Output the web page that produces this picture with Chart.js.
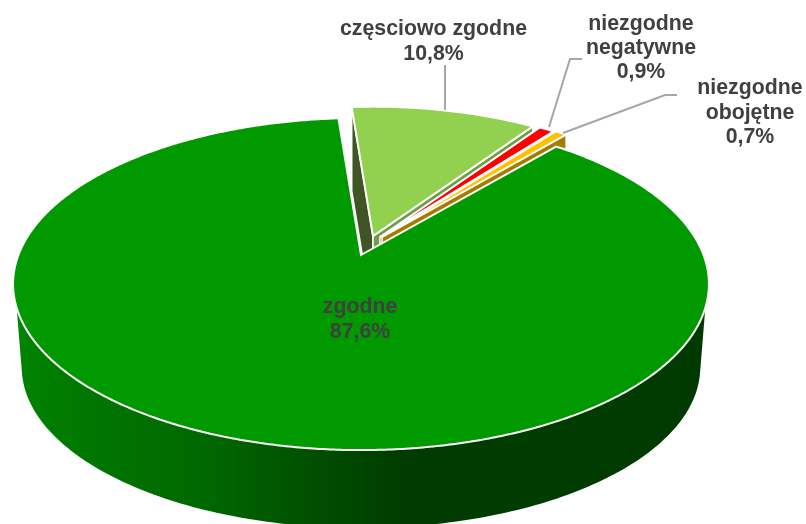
<!DOCTYPE html>
<html>
<head>
<meta charset="utf-8">
<script src="https://cdn.jsdelivr.net/npm/chart.js@4/dist/chart.umd.min.js"></script>
<style>html,body{margin:0;padding:0;background:#fff}canvas{display:block}</style>
</head>
<body>
<canvas id="c" width="806" height="524"></canvas>
<script>
const categories = ['zgodne', 'częsciowo zgodne', 'niezgodne negatywne', 'niezgodne obojętne'];
const values = [87.6, 10.8, 0.9, 0.7];
const sliceColors = ['#009900', '#92d050', '#ff0000', '#ffc000'];
const labelLines = [['zgodne'], ['częsciowo zgodne'], ['niezgodne', 'negatywne'], ['niezgodne', 'obojętne']];

// 3D look: view settings, all relative to the arc elements the library lays out
const VIEW = {
  offX: -42, offY: -7, sx: 1.3076, sy: 0.6145, persp: 0.1747,
  botOffY: 77, botSx: 1.275, botSy: 0.5954,
  depth: 84,
  shift: [[0, 0], [12, -19], [19, -18], [21, -18]],
  scale: [1, 0.944, 0.944, 0.944],
  faces: [null, ['#3f5525', '#6f9e4a'], [null, '#a80000'], [null, '#a67c00']],
  rimTop: [108.1, 251.9], rimBot: [102.9, 257.1]
};
const rimStops = [[15, '#008400'], [100, '#007400'], [200, '#006900'], [330, '#004b00'], [400, '#003c00'], [705, '#003a00']];
const labelPos = [[360, 313, 25], [433.5, 35, 25], [641, 30, 24], [750, 94, 24.5]];
const leaders = [null, [[445, 65], [445, 110]], [[582, 59], [570, 59], [549, 127]], [[677, 95], [665, 95], [563, 133]]];

function project(el, u, v, bottom) {
  const R = el.outerRadius, w = 1 + VIEW.persp * v;
  return bottom
    ? [el.x + VIEW.offX + R * VIEW.botSx * u / w, el.y + VIEW.botOffY - R * VIEW.botSy * v / w]
    : [el.x + VIEW.offX + R * VIEW.sx * u / w, el.y + VIEW.offY - R * VIEW.sy * v / w];
}
function rimPoint(el, i, a) {
  const t = a + Math.PI / 2, o = project(el, 0, 0), p = project(el, Math.sin(t), Math.cos(t));
  const k = VIEW.scale[i], s = VIEW.shift[i];
  return [o[0] + s[0] + k * (p[0] - o[0]), o[1] + s[1] + k * (p[1] - o[1])];
}
function trace(ctx, pts) {
  ctx.beginPath();
  pts.forEach((p, i) => i ? ctx.lineTo(p[0], p[1]) : ctx.moveTo(p[0], p[1]));
  ctx.closePath();
}
function drawFace(ctx, a, b, color) {
  const d = VIEW.depth;
  trace(ctx, [a, b, [b[0], b[1] + d], [a[0], a[1] + d]]);
  ctx.fillStyle = color; ctx.fill();
  ctx.strokeStyle = '#fff'; ctx.lineWidth = 1.6; ctx.stroke();
}
function drawSlice(ctx, el, i) {
  const o = project(el, 0, 0), s = VIEW.shift[i];
  const apex = [o[0] + s[0], o[1] + s[1]];
  const first = rimPoint(el, i, el.startAngle), last = rimPoint(el, i, el.endAngle);
  const faces = VIEW.faces[i];
  if (faces) {
    if (faces[0]) drawFace(ctx, apex, first, faces[0]);
    if (faces[1]) drawFace(ctx, apex, last, faces[1]);
  }
  const pts = [apex];
  const n = Math.max(6, Math.ceil((el.endAngle - el.startAngle) * 120));
  for (let k = 0; k <= n; k++) pts.push(rimPoint(el, i, el.startAngle + (el.endAngle - el.startAngle) * k / n));
  trace(ctx, pts);
  ctx.fillStyle = el.options.backgroundColor; ctx.fill();
  ctx.strokeStyle = '#fff'; ctx.lineWidth = 2; ctx.lineJoin = 'miter'; ctx.stroke();
}
function drawRimWall(ctx, el) {
  const pts = [];
  const rad = d => d * Math.PI / 180;
  const N = 160;
  for (let k = 0; k <= N; k++) {
    const t = rad(VIEW.rimTop[0] + (VIEW.rimTop[1] - VIEW.rimTop[0]) * k / N);
    pts.push(project(el, Math.sin(t), Math.cos(t)));
  }
  for (let k = N; k >= 0; k--) {
    const t = rad(VIEW.rimBot[0] + (VIEW.rimBot[1] - VIEW.rimBot[0]) * k / N);
    pts.push(project(el, Math.sin(t), Math.cos(t), true));
  }
  const g = ctx.createLinearGradient(0, 0, 806, 0);
  rimStops.forEach(s => g.addColorStop(s[0] / 806, s[1]));
  trace(ctx, pts);
  ctx.fillStyle = g; ctx.fill();
}
const pie3d = {
  id: 'pie3d',
  beforeDatasetDraw(chart, args) {
    const ctx = chart.ctx, els = chart.getDatasetMeta(args.index).data;
    ctx.save();
    drawRimWall(ctx, els[0]);
    [1, 2, 3, 0].forEach(i => drawSlice(ctx, els[i], i));
    ctx.restore();
    return false;
  },
  afterDraw(chart) {
    const ctx = chart.ctx;
    ctx.save();
    ctx.strokeStyle = '#a6a6a6'; ctx.lineWidth = 2;
    leaders.forEach(l => {
      if (!l) return;
      ctx.beginPath();
      l.forEach((p, i) => i ? ctx.lineTo(p[0], p[1]) : ctx.moveTo(p[0], p[1]));
      ctx.stroke();
    });
    ctx.fillStyle = '#404040';
    ctx.font = 'bold 21.3px "Liberation Sans", Arial, sans-serif';
    ctx.textAlign = 'center'; ctx.textBaseline = 'alphabetic';
    labelLines.forEach((lines, i) => {
      const [x, y, lh] = labelPos[i];
      const all = lines.concat([values[i].toFixed(1).replace('.', ',') + '%']);
      all.forEach((t, k) => ctx.fillText(t, x, y + k * lh));
    });
    ctx.restore();
  }
};
new Chart(document.getElementById('c'), {
  type: 'pie',
  data: { labels: categories, datasets: [{ data: values, backgroundColor: sliceColors, borderWidth: 0 }] },
  options: {
    responsive: false, animation: false, rotation: 40.2,
    layout: { padding: 0 },
    plugins: { legend: { display: false }, tooltip: { enabled: false }, title: { display: false } }
  },
  plugins: [pie3d]
});
</script>
</body>
</html>
